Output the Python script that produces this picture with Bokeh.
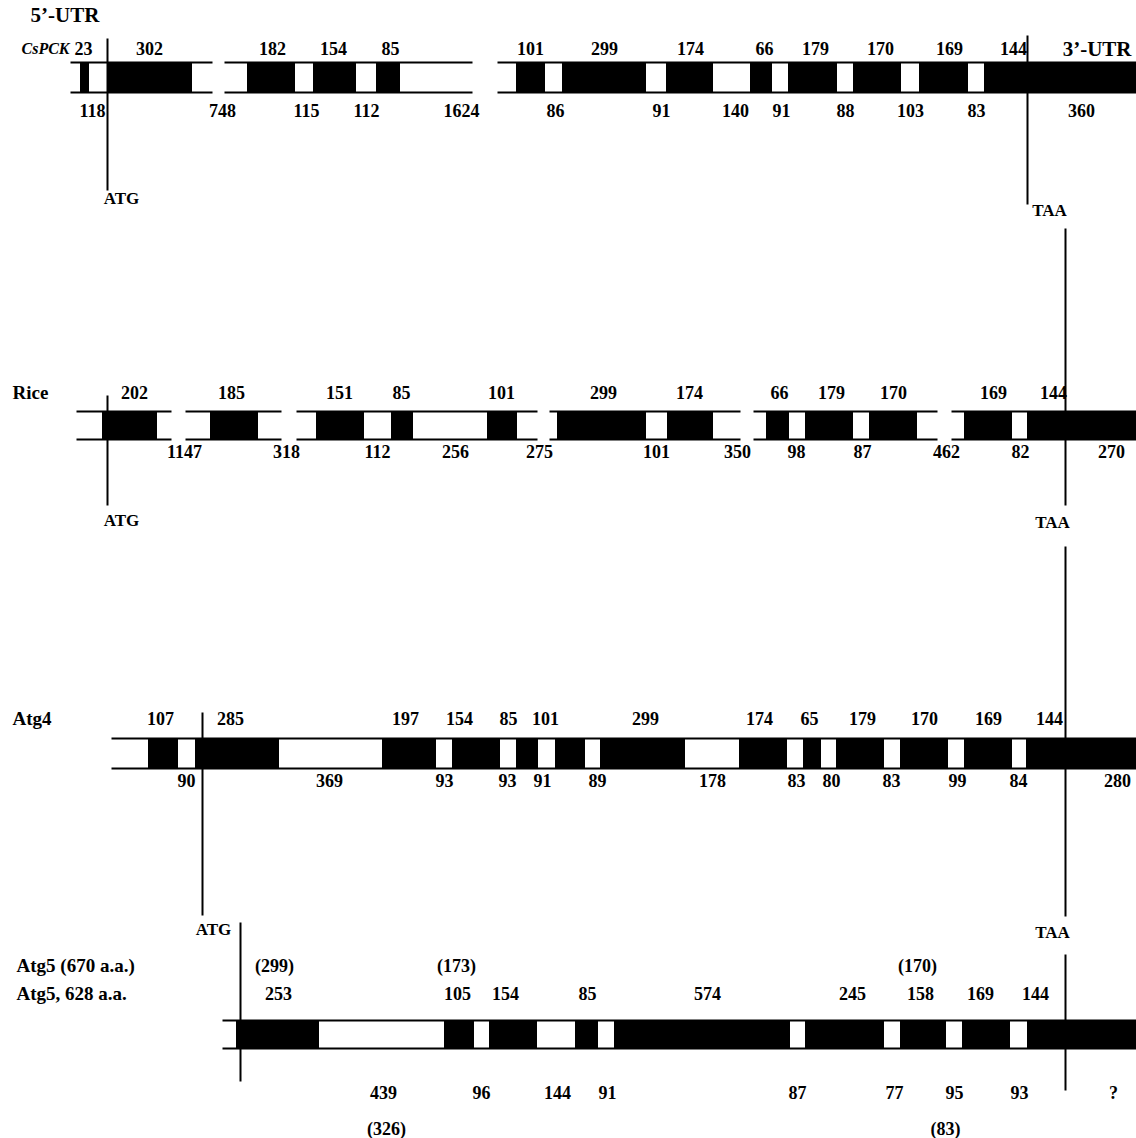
from bokeh.plotting import figure
from bokeh.models import Range1d
from bokeh.core.properties import value
from bokeh.embed import file_html
from bokeh.resources import INLINE

# ---------------- data (gene map coordinates along the diagram axis) -------------
# CsPCK
cs_seg_start = [70, 224, 497]
cs_seg_end = [212, 472, 1136]
cs_exon_start = [80, 107, 247, 313, 376, 516, 562, 666, 750, 788, 853, 919, 984]
cs_exon_end = [88, 191, 294, 355, 399, 544, 645, 712, 771, 836, 900, 967, 1136]
cs_exon_bp = ["23", "302", "182", "154", "85", "101", "299", "174", "66", "179", "170", "169", "144"]
cs_exon_lx = [83, 149, 272, 333, 390, 530, 604, 690, 764, 815, 880, 949, 1013]
cs_intron_bp = ["118", "748", "115", "112", "1624", "86", "91", "140", "91", "88", "103", "83", "360"]
cs_intron_lx = [92, 222, 306, 366, 461, 555, 661, 735, 781, 845, 910, 976, 1081]

# Rice
rice_seg_start = [76, 185, 296, 549, 753, 951]
rice_seg_end = [171, 281, 537, 740, 937, 1136]
rice_exon_start = [102, 210, 316, 391, 487, 557, 667, 766, 805, 869, 964, 1027]
rice_exon_end = [156, 257, 363, 412, 516, 645, 712, 788, 852, 916, 1011, 1136]
rice_exon_bp = ["202", "185", "151", "85", "101", "299", "174", "66", "179", "170", "169", "144"]
rice_exon_lx = [134, 231, 339, 401, 501, 603, 689, 779, 831, 893, 993, 1053]
rice_intron_bp = ["1147", "318", "112", "256", "275", "101", "350", "98", "87", "462", "82", "270"]
rice_intron_lx = [184, 286, 377, 455, 539, 656, 737, 796, 862, 946, 1020, 1111]

# Atg4
atg4_seg_start = [111]
atg4_seg_end = [1136]
atg4_exon_start = [148, 195, 382, 452, 516, 555, 600, 739, 803, 836, 900, 964, 1026]
atg4_exon_end = [177, 278, 435, 499, 537, 584, 684, 786, 820, 883, 947, 1011, 1136]
atg4_exon_bp = ["107", "285", "197", "154", "85", "101", "299", "174", "65", "179", "170", "169", "144"]
atg4_exon_lx = [160, 230, 405, 459, 508, 545, 645, 759, 809, 862, 924, 988, 1049]
atg4_intron_bp = ["90", "369", "93", "93", "91", "89", "178", "83", "80", "83", "99", "84", "280"]
atg4_intron_lx = [186, 329, 444, 507, 542, 597, 712, 796, 831, 891, 957, 1018, 1117]

# Atg5
atg5_seg_start = [222]
atg5_seg_end = [1136]
atg5_exon_start = [236, 444, 489, 575, 614, 805, 900, 962, 1027]
atg5_exon_end = [318, 473, 536, 597, 789, 883, 945, 1009, 1136]
atg5_exon_bp = ["253", "105", "154", "85", "574", "245", "158", "169", "144"]
atg5_exon_lx = [278, 457, 505, 587, 707, 852, 920, 980, 1035]
atg5_alt_exon_bp = ["(299)", "(173)", "(170)"]
atg5_alt_exon_lx = [274, 456, 917]
atg5_intron_bp = ["439", "96", "144", "91", "87", "77", "95", "93", "?"]
atg5_intron_lx = [383, 481, 557, 607, 797, 894, 954, 1019, 1113]
atg5_alt_intron_bp = ["(326)", "(83)"]
atg5_alt_intron_lx = [386, 945]

# start / stop codon markers: (x, line_top, line_bottom)
codon_x = [107, 1027, 107, 1065, 202, 1065, 240, 1065]
codon_y0 = [38, 35, 395, 228, 712, 546, 922, 954]
codon_y1 = [190, 204, 505, 505, 915, 916, 1081, 1090]
codon_text = ["ATG", "TAA", "ATG", "TAA", "ATG", "TAA"]
codon_tx = [121, 1049, 121, 1052, 213, 1052]
codon_ty = [198, 210, 520, 522, 929, 932]

# ---------------- layout ----------------
FONT = value("Liberation Serif")
p = figure(width=1136, height=1138, output_backend="svg", toolbar_location=None,
           x_range=Range1d(0, 1136), y_range=Range1d(1138, 0), min_border=0)
p.axis.visible = False
p.grid.visible = False
p.outline_line_color = None
p.background_fill_color = "white"


def txt(xs, ys, texts, size="18px", align="center", style="bold"):
    p.text(x=xs, y=ys, text=texts, text_font=FONT, text_font_size=size,
           text_font_style=style, text_align=align, text_baseline="middle",
           text_color="black")


def gene(seg_s, seg_e, ex_s, ex_e, top, bot, ex_lab, ex_lx, ey, in_lab, in_lx, iy):
    n = len(seg_s)
    p.segment(x0=seg_s, x1=seg_e, y0=[top] * n, y1=[top] * n, line_color="black", line_width=2)
    p.segment(x0=seg_s, x1=seg_e, y0=[bot] * n, y1=[bot] * n, line_color="black", line_width=2)
    m = len(ex_s)
    p.quad(left=ex_s, right=ex_e, top=[top] * m, bottom=[bot] * m,
           fill_color="black", line_color="black", line_width=1)
    txt(ex_lx, [ey] * len(ex_lab), ex_lab)
    txt(in_lx, [iy] * len(in_lab), in_lab)


gene(cs_seg_start, cs_seg_end, cs_exon_start, cs_exon_end, 62, 92,
     cs_exon_bp, cs_exon_lx, 48, cs_intron_bp, cs_intron_lx, 110)
gene(rice_seg_start, rice_seg_end, rice_exon_start, rice_exon_end, 411, 439,
     rice_exon_bp, rice_exon_lx, 392, rice_intron_bp, rice_intron_lx, 451)
gene(atg4_seg_start, atg4_seg_end, atg4_exon_start, atg4_exon_end, 738, 768,
     atg4_exon_bp, atg4_exon_lx, 718, atg4_intron_bp, atg4_intron_lx, 780)
gene(atg5_seg_start, atg5_seg_end, atg5_exon_start, atg5_exon_end, 1020, 1048,
     atg5_exon_bp, atg5_exon_lx, 993, atg5_intron_bp, atg5_intron_lx, 1092)
txt(atg5_alt_exon_lx, [965] * len(atg5_alt_exon_bp), atg5_alt_exon_bp)
txt(atg5_alt_intron_lx, [1128] * len(atg5_alt_intron_bp), atg5_alt_intron_bp)

# codon lines and labels
p.segment(x0=codon_x, x1=codon_x, y0=codon_y0, y1=codon_y1, line_color="black", line_width=2)
txt(codon_tx, codon_ty, codon_text, size="17px")

# gene names and UTR labels
txt([30], [14], ["5’-UTR"], size="21px", align="left")
txt([1131], [48], ["3’-UTR"], size="21px", align="right")
txt([69], [48], ["CsPCK"], size="16px", align="right", style="bold italic")
txt([12, 12], [392, 718], ["Rice", "Atg4"], size="19px", align="left")
txt([16, 16], [965, 993], ["Atg5 (670 a.a.)", "Atg5, 628 a.a."], size="19px", align="left")

open("out.html", "w").write(file_html(p, INLINE))
